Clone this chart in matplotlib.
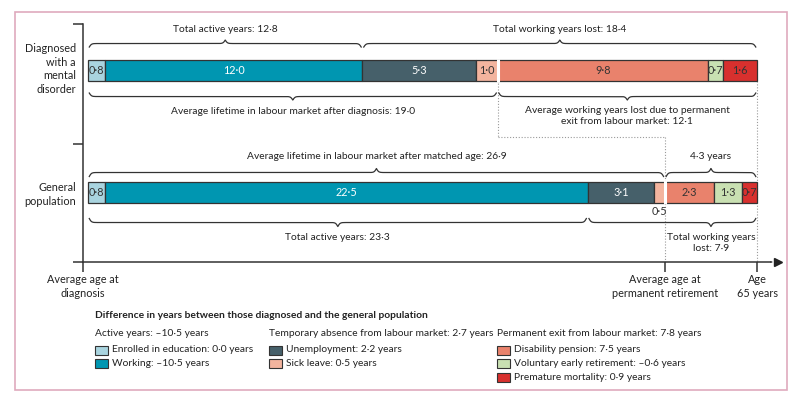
import numpy as np
import matplotlib.pyplot as plt
from matplotlib.patches import Rectangle

plt.rcParams['font.family'] = ['Lato', 'DejaVu Sans']
plt.rcParams['text.color'] = '#222222'
FS = 7.4

# data
segments = ['Enrolled in education', 'Working', 'Unemployment', 'Sick leave',
            'Disability pension', 'Voluntary early retirement', 'Premature mortality']
colors = ['#a9d4df', '#0096b1', '#46606a', '#f3b49e', '#e9826c', '#c9e0b2', '#d8302e']
diagnosed = [0.8, 12.0, 5.3, 1.0, 9.8, 0.7, 1.6]
general = [0.8, 22.5, 3.1, 0.5, 2.3, 1.3, 0.7]
differences = ['0·0', '–10·5', '2·2', '0·5', '7·5', '–0·6', '0·9']
groups = ['Active years: –10·5 years',
          'Temporary absence from labour market: 2·7 years',
          'Permanent exit from labour market: 7·8 years']
group_members = [[0, 1], [2, 3], [4, 5, 6]]
row_labels = ['Diagnosed\nwith a\nmental\ndisorder', 'General\npopulation']

diag_top = ['Total active years: 12·8', 'Total working years lost: 18·4']
diag_bottom = ['Average lifetime in labour market after diagnosis: 19·0',
               'Average working years lost due to permanent\nexit from labour market: 12·1']
gen_top = ['Average lifetime in labour market after matched age: 26·9', '4·3 years']
gen_bottom = ['Total active years: 23·3', 'Total working years\nlost: 7·9']
axis_labels = ['Average age at\ndiagnosis', 'Average age at\npermanent retirement', 'Age\n65 years']

W, H = 800, 394
fig = plt.figure(figsize=(W / 100, H / 100), dpi=100)
ax = fig.add_axes([83 / W, 1 - 262 / H, (780 - 83) / W, (262 - 24) / H])
ax.set_xlim(-0.233, 32.27)
ax.set_ylim(-0.576, 1.383)
ax.patch.set_alpha(0)

# pixel -> data helpers
PX = (32.27 + 0.233) / (780 - 83)
PY = (1.383 + 0.576) / (262 - 24)

bar_h = 21 * PY
ys = [1, 0]
total = sum(general)


def fmt(v):
    return f'{v:.1f}'.replace('.', '·')


def brace(x0, x1, y, h, tip=None):
    tip = (x0 + x1) / 2 if tip is None else tip
    w = 1.1 * PX
    xa = np.linspace(x0, tip, 400)
    sa = 1 / (1 + np.exp(-(xa - x0) / w)) + 1 / (1 + np.exp(-(xa - tip) / w)) - 0.5
    xb = np.linspace(tip, x1, 400)
    sb = 1 / (1 + np.exp((xb - x1) / w)) + 1 / (1 + np.exp((xb - tip) / w)) - 0.5
    xs = np.concatenate([xa, xb])
    ss = np.concatenate([sa, sb])
    ax.plot(xs, y + ss * h, color='#333333', lw=0.9, clip_on=False, zorder=3)


dot_kw = dict(color='#9a9a9a', lw=0.8, ls=(0, (1, 1.6)), zorder=1, clip_on=False)

cum_d = np.concatenate([[0], np.cumsum(diagnosed)])
cum_g = np.concatenate([[0], np.cumsum(general)])
ret_d, ret_g = cum_d[4], cum_g[4]
act_d, act_g = cum_d[2], cum_g[2]

# dotted guides
mid_y = 1 - bar_h / 2 - 56 * PY
ax.plot([ret_d, ret_d], [1 + bar_h / 2, mid_y], **dot_kw)
ax.plot([ret_d, ret_g], [mid_y, mid_y], **dot_kw)
ax.plot([ret_g, ret_g], [mid_y, -0.576], **dot_kw)
ax.plot([total, total], [1 - bar_h / 2, -0.576], **dot_kw)

# bars
for y, vals in zip(ys, [diagnosed, general]):
    left = 0
    for i, v in enumerate(vals):
        ax.barh(y, v, left=left, height=bar_h, color=colors[i], edgecolor='#333333',
                linewidth=0.9, zorder=2)
        txt_col = 'white' if i in (1, 2) else '#333333'
        if v >= 0.7:
            ax.text(left + v / 2, y, fmt(v), ha='center', va='center', fontsize=FS + 0.4,
                    color=txt_col, zorder=4)
        else:
            ax.text(left + v / 2, y - bar_h / 2 - 3 * PY, fmt(v), ha='center', va='top',
                    fontsize=FS + 0.4, color='#333333')
        left += v
    r = ret_d if y == 1 else ret_g
    ax.plot([r, r], [y - bar_h / 2 - 0.01, y + bar_h / 2 + 0.01], color='white',
            lw=2.2, zorder=3, solid_capstyle='butt')

# braces - diagnosed
g = 0.06
ytop_d = 1 + bar_h / 2 + 13 * PY
brace(0 + g, act_d - g, ytop_d, 7 * PY)
brace(act_d + g, total - g, ytop_d, 7 * PY)
ax.text(act_d / 2, ytop_d + 18 * PY, diag_top[0], ha='center', va='center', fontsize=FS)
ax.text((act_d + total) / 2, ytop_d + 18 * PY, diag_top[1], ha='center', va='center', fontsize=FS)

ybot_d = 1 - bar_h / 2 - 12 * PY
brace(0 + g, ret_d - g, ybot_d, -7 * PY)
brace(ret_d + g, total - g, ybot_d, -7 * PY)
ax.text(ret_d / 2, ybot_d - 18 * PY, diag_bottom[0], ha='center', va='center', fontsize=FS)
ax.text((ret_d + total) / 2, ybot_d - 13 * PY, diag_bottom[1], ha='center', va='top',
        fontsize=FS, linespacing=1.3)

# braces - general population
ytop_g = 0 + bar_h / 2 + 5 * PY
brace(0 + g, ret_g - g, ytop_g, 8 * PY)
brace(ret_g + g, total - g, ytop_g, 8 * PY)
ax.text(ret_g / 2, ytop_g + 20 * PY, gen_top[0], ha='center', va='center', fontsize=FS)
ax.text((ret_g + total) / 2, ytop_g + 20 * PY, gen_top[1], ha='center', va='center', fontsize=FS)

ybot_g = 0 - bar_h / 2 - 16 * PY
brace(0 + g, act_g - g, ybot_g, -8 * PY)
brace(act_g + g, total - g, ybot_g, -8 * PY, tip=(ret_g + total) / 2)
ax.text(act_g / 2, ybot_g - 19 * PY, gen_bottom[0], ha='center', va='center', fontsize=FS)
ax.text((ret_g + total) / 2, ybot_g - 14 * PY, gen_bottom[1], ha='center', va='top',
        fontsize=FS, linespacing=1.3)

# row labels
for y, lab in zip([1 + 1.5 * PY, 0 - 2.5 * PY], row_labels):
    ax.text(-0.233 - 7 * PX, y, lab, ha='right', va='center', fontsize=FS + 0.4,
            linespacing=1.3, clip_on=False)

# axes
for s in ['top', 'right']:
    ax.spines[s].set_visible(False)
ax.spines['left'].set_linewidth(1.1)
ax.spines['bottom'].set_linewidth(1.1)
ax.spines['left'].set_color('#333333')
ax.spines['bottom'].set_color('#333333')
ax.spines['bottom'].set_bounds(-0.233, total + 0.6)
ax.plot([total + 0.6, total + 0.95], [-0.576, -0.576], color='#333333', lw=1.1,
        ls=(0, (1.5, 1.5)), clip_on=False)
ax.plot([total + 1.0], [-0.576], marker='>', ms=6, color='#222222', clip_on=False)
ax.set_yticks([-0.576, 0 + bar_h / 2 + 38 * PY, 1.383])
ax.set_yticklabels([])
ax.set_xticks([-0.233, ret_g, total])
ax.set_xticklabels([])
ax.tick_params(length=7, width=1.1, color='#333333')
for x, lab in zip([-0.233, ret_g, total], axis_labels):
    ax.text(x, -0.576 - 12 * PY, lab, ha='center', va='top', fontsize=FS + 0.4,
            linespacing=1.3, clip_on=False)

# legend
def fx(px):
    return px / W


def fy(py):
    return 1 - py / H


fig.text(fx(95), fy(315), 'Difference in years between those diagnosed and the general population',
         fontsize=FS, fontweight='bold', va='center')
col_x = [95, 269, 497]
row_y = [350, 363, 377]
for gi, (gname, members) in enumerate(zip(groups, group_members)):
    fig.text(fx(col_x[gi]), fy(333), gname, fontsize=FS, va='center')
    for ri, m in enumerate(members):
        fig.patches.append(Rectangle((fx(col_x[gi]), fy(row_y[ri] + 4.5)), 13 / W, 9 / H,
                                     transform=fig.transFigure, facecolor=colors[m],
                                     edgecolor='#333333', lw=0.8))
        fig.text(fx(col_x[gi] + 17), fy(row_y[ri]), f'{segments[m]}: {differences[m]} years',
                 fontsize=FS, va='center')

# frame
fig.patches.append(Rectangle((fx(15), fy(390)), (787 - 15) / W, (390 - 12) / H,
                             transform=fig.transFigure, fill=False,
                             edgecolor='#dfaabd', lw=1.2))

fig.savefig('out.png', dpi=100)
